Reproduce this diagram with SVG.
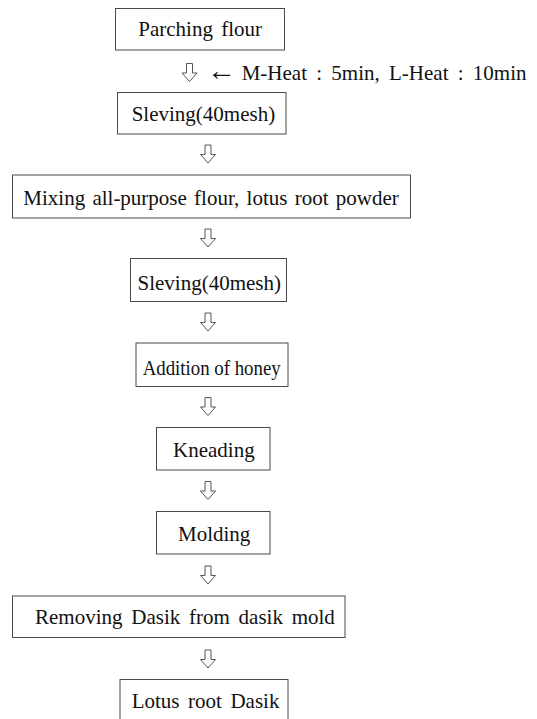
<svg xmlns="http://www.w3.org/2000/svg" xmlns:xlink="http://www.w3.org/1999/xlink" width="537" height="719" viewBox="0 0 537 719">
<style>
.box{fill:#fff;stroke:#4a4a4a;stroke-width:1}
.lbl{font-family:"Liberation Serif","Times New Roman",serif;font-size:21px;fill:#111}
.larr{font-size:29px}
.arr{fill:#fff;stroke:#555;stroke-width:1;stroke-linejoin:miter}
</style>
<defs>
<path id="down" class="arr" d="M-3,0 L3,0 L3,9.5 L7.5,9.5 L0,18 L-7.5,9.5 L-3,9.5 Z"/>
</defs>
<rect width="537" height="719" fill="#fff"/>
<g id="connectors">
<use xlink:href="#down" href="#down" transform="translate(189.5,63.5)"/>
<use xlink:href="#down" href="#down" transform="translate(208,145)"/>
<use xlink:href="#down" href="#down" transform="translate(208,229)"/>
<use xlink:href="#down" href="#down" transform="translate(208,313)"/>
<use xlink:href="#down" href="#down" transform="translate(208,397.5)"/>
<use xlink:href="#down" href="#down" transform="translate(208,481.5)"/>
<use xlink:href="#down" href="#down" transform="translate(208,566)"/>
<use xlink:href="#down" href="#down" transform="translate(208,650)"/>
</g>
<g id="heat-label">
<text class="lbl" y="80"><tspan class="larr" x="207">←</tspan><tspan x="241.7" word-spacing="4">M-Heat : 5min, L-Heat : 10min</tspan></text>
</g>
<g id="n1">
<rect class="box" x="115.5" y="8.5" width="169" height="41.5"/>
<text class="lbl" x="138.3" y="36" word-spacing="3">Parching flour</text>
</g>
<g id="n2">
<rect class="box" x="117.5" y="92.5" width="168.5" height="41.5"/>
<text class="lbl" x="131.7" y="120.5">Sleving(40mesh)</text>
</g>
<g id="n3">
<rect class="box" x="12.5" y="175" width="398" height="43"/>
<text class="lbl" x="23.3" y="205" word-spacing="2">Mixing all-purpose flour, lotus root powder</text>
</g>
<g id="n4">
<rect class="box" x="130.5" y="258.5" width="156" height="43"/>
<text class="lbl" x="137.5" y="289.5">Sleving(40mesh)</text>
</g>
<g id="n5">
<rect class="box" x="136" y="343" width="152" height="43.5"/>
<text class="lbl" x="142.7" y="374.5" textLength="138" lengthAdjust="spacingAndGlyphs">Addition of honey</text>
</g>
<g id="n6">
<rect class="box" x="156.5" y="427.5" width="113.5" height="42.5"/>
<text class="lbl" x="173" y="456.5">Kneading</text>
</g>
<g id="n7">
<rect class="box" x="156.5" y="511.5" width="113.5" height="42.5"/>
<text class="lbl" x="178" y="540.5">Molding</text>
</g>
<g id="n8">
<rect class="box" x="12.5" y="596" width="332.5" height="41.5"/>
<text class="lbl" x="35" y="623.5" word-spacing="3.5">Removing Dasik from dasik mold</text>
</g>
<g id="n9">
<rect class="box" x="120" y="679.5" width="168" height="60"/>
<text class="lbl" x="131.7" y="708.3" word-spacing="3.3">Lotus root Dasik</text>
</g>
</svg>
